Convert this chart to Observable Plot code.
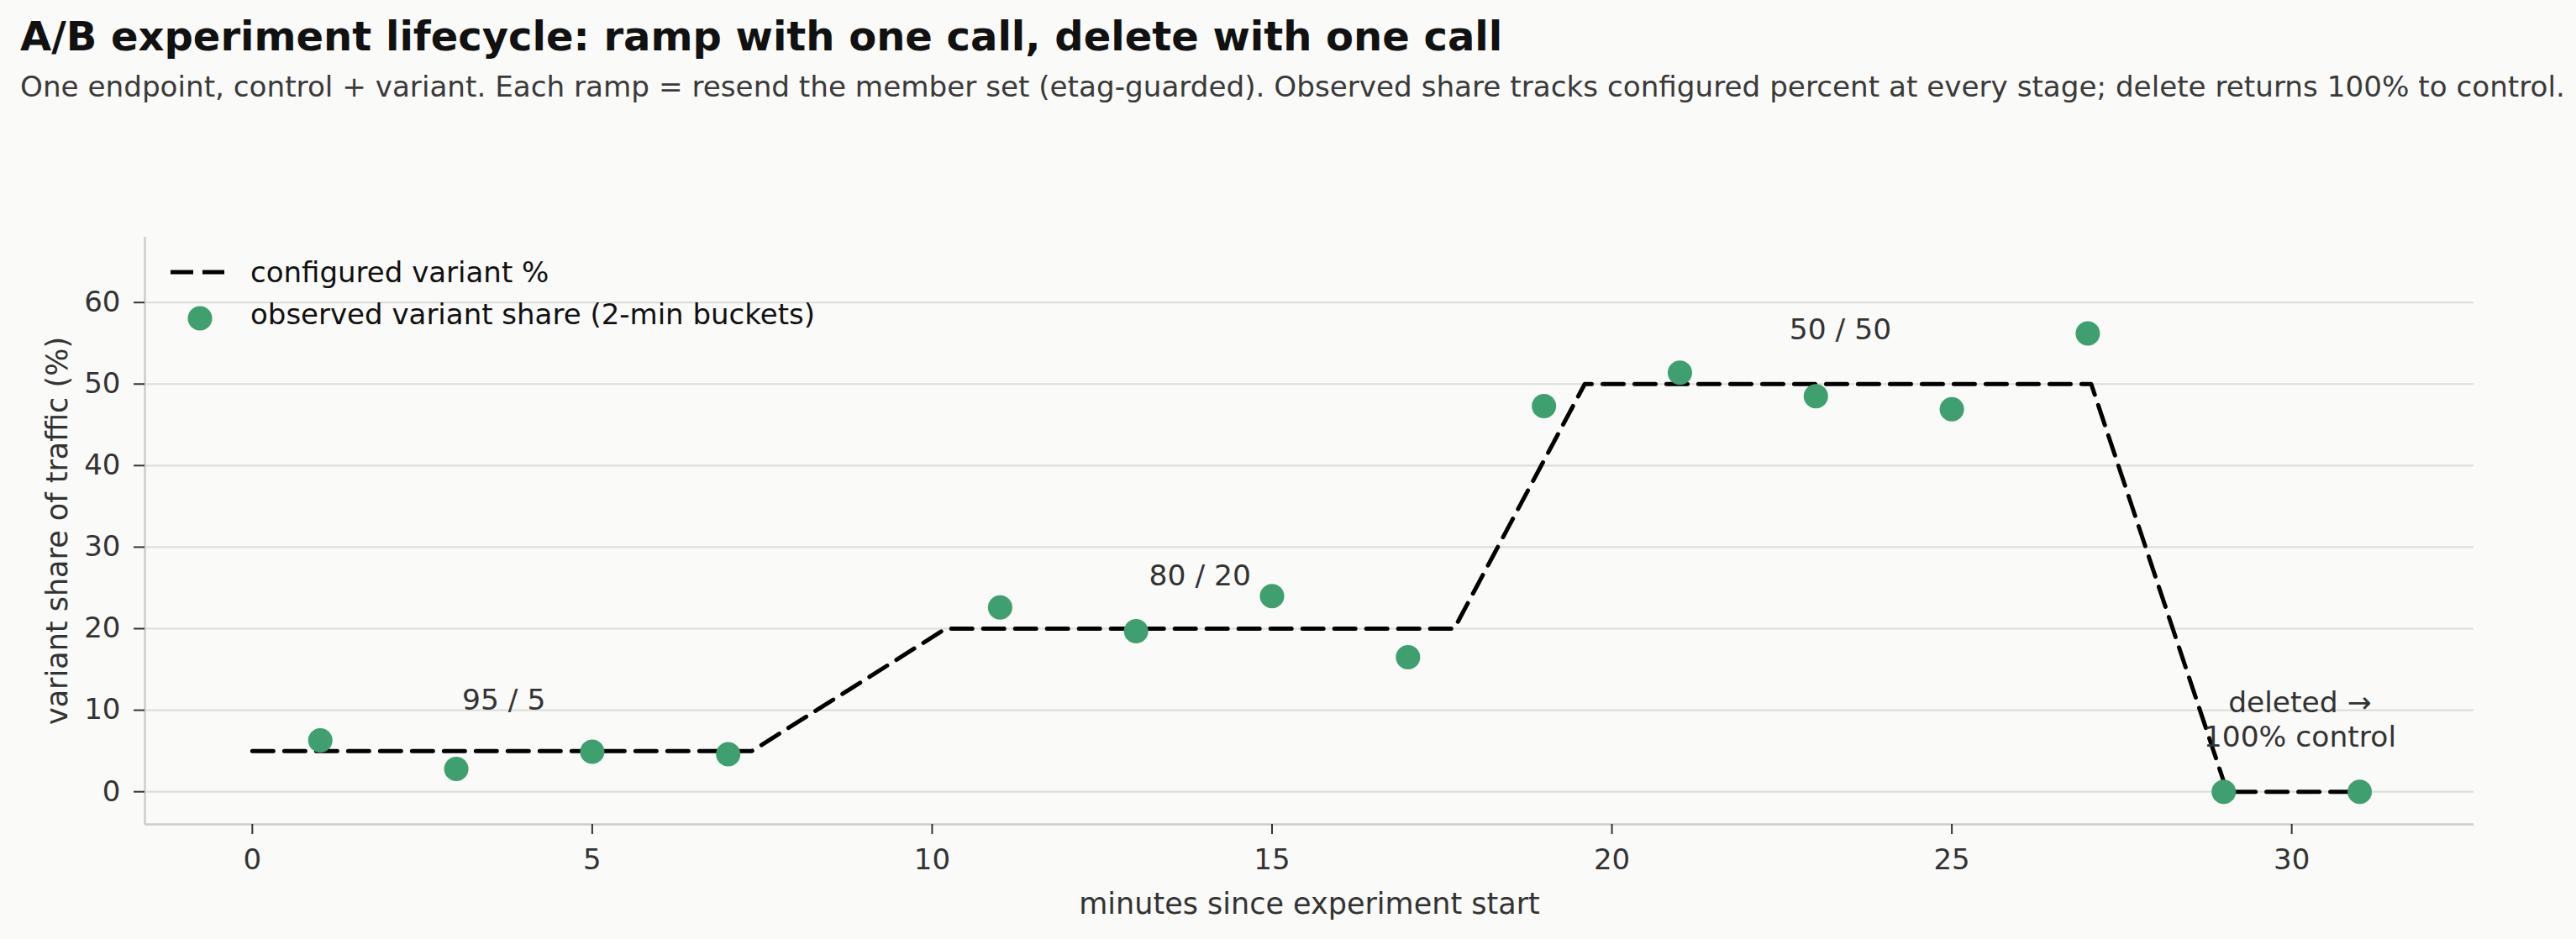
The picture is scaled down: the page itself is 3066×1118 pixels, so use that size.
<!DOCTYPE html>
<html>
<head>
<meta charset="utf-8">
<script src="https://cdn.jsdelivr.net/npm/d3@7"></script>
<script src="https://cdn.jsdelivr.net/npm/@observablehq/plot@0.6"></script>
<style>
  html, body { margin: 0; padding: 0; background: #fafaf8; }
  #wrap { position: relative; width: 3066px; height: 1118px; background: #fafaf8; font-family: "DejaVu Sans", sans-serif; overflow: hidden; }
  #title { position: absolute; left: 24px; top: 19px; font-size: 48px; line-height: 1; font-weight: bold; color: #111; white-space: nowrap; }
  #subtitle { position: absolute; left: 24px; top: 86px; font-size: 34.2px; line-height: 1; color: #3a3a3a; white-space: nowrap; }
  #chart { position: absolute; left: 0; top: 140px; }
  .leg { position: absolute; font-size: 34px; line-height: 1; color: #111; white-space: nowrap; }
  .sw { position: absolute; }
</style>
</head>
<body>
<div id="wrap">
  <div id="title"></div>
  <div id="subtitle"></div>
  <div id="chart"></div>
  <svg class="sw" style="left:200px;top:314px" width="72" height="20"><line x1="3" y1="10" x2="67" y2="10" stroke="#000" stroke-width="5" stroke-dasharray="27,11"/></svg>
  <div class="leg" id="leg1" style="left:298px;top:307px"></div>
  <svg class="sw" style="left:218px;top:359px" width="40" height="40"><circle cx="20" cy="20" r="14.5" fill="#3f9f6e"/></svg>
  <div class="leg" id="leg2" style="left:298px;top:357px"></div>
</div>
<script>
// ---- text ----
const titleText = "A/B experiment lifecycle: ramp with one call, delete with one call";
const subtitleText = "One endpoint, control + variant. Each ramp = resend the member set (etag-guarded). Observed share tracks configured percent at every stage; delete returns 100% to control.";
const legendLabels = ["configured variant %", "observed variant share (2-min buckets)"];
const xAxisLabel = "minutes since experiment start";
const yAxisLabel = "variant share of traffic (%)";

// ---- configured variant % (dashed line) ----
const configMinutes = [0, 7.35, 10.2, 17.68, 19.6, 27.05, 29.05, 31];
const configPercent = [5, 5, 20, 20, 50, 50, 0, 0];

// ---- observed variant share (2-min buckets) ----
const obsMinutes = [1, 3, 5, 7, 11, 13, 15, 17, 19, 21, 23, 25, 27, 29, 31];
const obsShare   = [6.3, 2.8, 4.9, 4.6, 22.6, 19.7, 24.0, 16.5, 47.3, 51.4, 48.5, 46.9, 56.2, 0, 0];

// ---- annotations ----
const annoLabels = ["95 / 5", "80 / 20", "50 / 50", "deleted →\n100% control"];
const annoMinutes = [3.7, 13.94, 23.36, 30.12];
const annoPercent = [11.4, 26.7, 56.9, 9.0];

// ---- axes ----
const xDomain = [-1.58, 32.68];
const yDomain = [-4, 68];
const xTicks = [0, 5, 10, 15, 20, 25, 30];
const yTicks = [0, 10, 20, 30, 40, 50, 60];

document.getElementById("title").textContent = titleText;
document.getElementById("subtitle").textContent = subtitleText;
document.getElementById("leg1").textContent = legendLabels[0];
document.getElementById("leg2").textContent = legendLabels[1];

const config = configMinutes.map((m, i) => ({minute: m, pct: configPercent[i]}));
const obs = obsMinutes.map((m, i) => ({minute: m, share: obsShare[i]}));
const annos = annoLabels.map((t, i) => ({text: t, minute: annoMinutes[i], pct: annoPercent[i]}));

const chart = Plot.plot({
  width: 3066,
  height: 978,
  marginTop: 142,
  marginBottom: 137,
  marginLeft: 172,
  marginRight: 122,
  style: {background: "transparent", fontFamily: "DejaVu Sans, sans-serif", fontSize: "34px", color: "#333", overflow: "visible"},
  x: {domain: xDomain, label: null},
  y: {domain: yDomain, label: null},
  marks: [
    Plot.gridY(yTicks, {stroke: "#deded9", strokeOpacity: 1, strokeWidth: 2.2}),
    Plot.ruleX([xDomain[0]], {stroke: "#cccccc", strokeWidth: 2.5}),
    Plot.ruleY([yDomain[0]], {stroke: "#cccccc", strokeWidth: 2.5}),
    Plot.axisX(xTicks, {tickSize: 12, tickPadding: 17, stroke: "#333", strokeWidth: 2, fill: "#333", fontSize: 34, label: null}),
    Plot.axisY(yTicks, {tickSize: 13, tickPadding: 16, stroke: "#333", strokeWidth: 2, fill: "#333", fontSize: 34, label: null}),
    Plot.text([xAxisLabel], {frameAnchor: "bottom", dy: 95, fontSize: 35, fill: "#333", lineAnchor: "middle"}),
    Plot.text([yAxisLabel], {frameAnchor: "left", dx: -104, rotate: -90, fontSize: 35, fill: "#333", lineAnchor: "middle", textAnchor: "middle"}),
    Plot.line(config, {x: "minute", y: "pct", stroke: "#000", strokeWidth: 5, strokeDasharray: "25,13"}),
    Plot.dot(obs, {x: "minute", y: "share", r: 14.5, fill: "#3f9f6e", stroke: "none"}),
    Plot.text(annos, {x: "minute", y: "pct", text: "text", fontSize: 34.5, fill: "#333", lineAnchor: "middle", textAnchor: "middle", lineHeight: 1.2})
  ]
});
document.getElementById("chart").appendChild(chart);
</script>
</body>
</html>
